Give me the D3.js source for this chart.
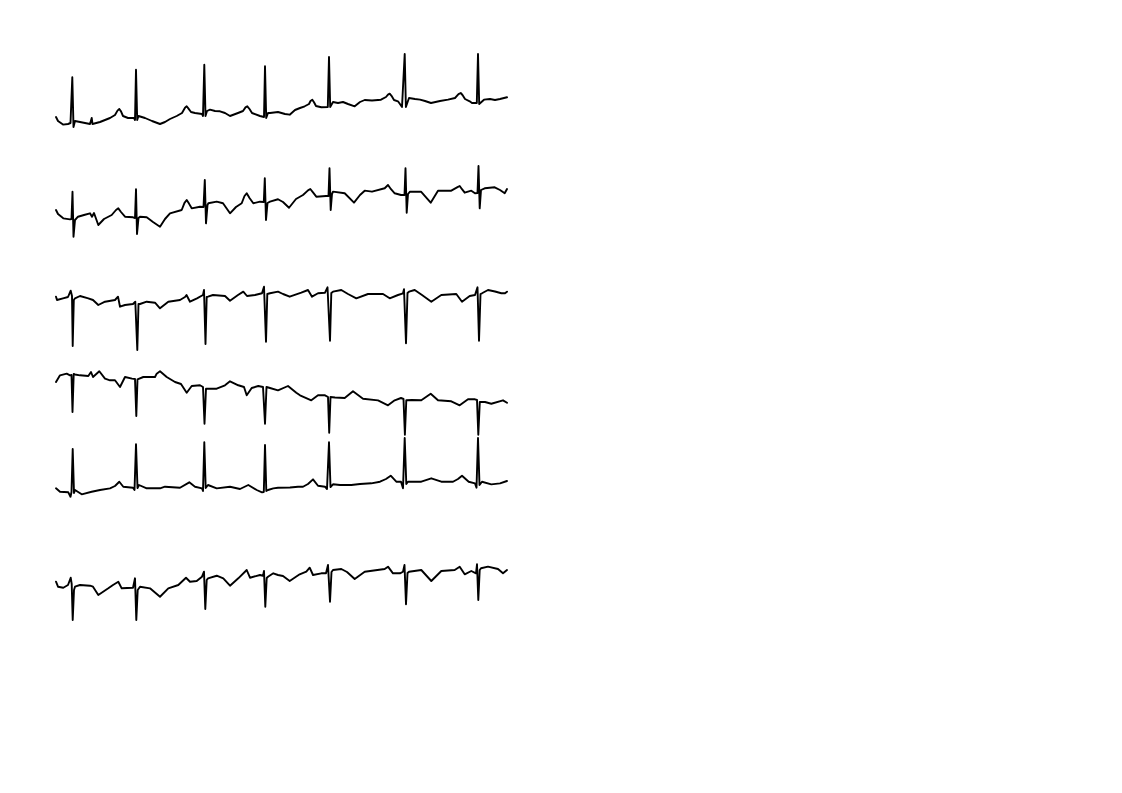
<!DOCTYPE html>
<html>
<head>
<meta charset="utf-8">
<script src="https://cdn.jsdelivr.net/npm/d3@7"></script>
<style>
  html, body { margin: 0; padding: 0; background: #ffffff; }
  svg { display: block; }
</style>
</head>
<body>
<div id="chart"></div>
<script>
// Time in ms, amplitude in microvolts.
const leadNames = ["I", "II", "III", "IV", "V", "VI"];

const lead1 = [[0,-50],[40,-150],[140,-240],[240,-225],[290,-200],[326,943],[350,-300],[380,-150],[480,-175],[580,-200],[680,-225],[714,-75],[730,-225],[880,-175],[980,-125],[1080,-75],[1180,0],[1230,110],[1266,150],[1300,90],[1340,-25],[1440,-75],[1560,-75],[1580,-125],[1600,1133],[1624,-125],[1650,-25],[1780,-75],[1920,-150],[2080,-225],[2180,-175],[2280,-100],[2414,-25],[2520,50],[2580,180],[2614,218],[2650,160],[2700,75],[2780,50],[2920,25],[2940,-25],[2966,1258],[2990,-25],[3020,100],[3080,133],[3180,100],[3280,93],[3380,50],[3480,-25],[3640,50],[3740,100],[3790,190],[3826,218],[3870,150],[3920,50],[4080,-25],[4160,-50],[4180,1218],[4204,-75],[4240,50],[4280,50],[4440,75],[4580,25],[4674,8],[4780,125],[4880,175],[4974,218],[5060,275],[5090,350],[5126,383],[5160,320],[5200,225],[5306,193],[5436,200],[5460,1450],[5484,200],[5540,325],[5640,300],[5740,325],[5840,275],[5974,218],[6080,325],[6174,375],[6320,363],[6500,383],[6600,450],[6640,510],[6674,533],[6710,480],[6760,375],[6840,343],[6920,200],[6974,1525],[6998,200],[7060,425],[7180,400],[7280,383],[7380,350],[7500,300],[7680,350],[7840,383],[7980,425],[8050,520],[8094,550],[8130,500],[8180,400],[8274,343],[8320,300],[8416,300],[8440,1525],[8464,275],[8560,383],[8680,400],[8780,375],[8880,400],[9020,443]];

const lead2 = [[0,-100],[40,-200],[146,-308],[280,-333],[310,-325],[330,358],[350,-768],[380,-350],[440,-268],[560,-225],[680,-183],[720,-268],[760,-175],[846,-475],[960,-325],[1114,-225],[1200,-100],[1246,-58],[1300,-150],[1380,-268],[1540,-283],[1580,-300],[1600,417],[1620,-700],[1650,-300],[1680,-268],[1814,-283],[1940,-400],[2080,-518],[2180,-325],[2280,-183],[2514,-100],[2570,80],[2614,150],[2660,60],[2714,-58],[2880,-18],[2950,-25],[2976,650],[3000,-433],[3030,25],[3046,68],[3214,108],[3340,68],[3480,-183],[3600,-25],[3714,68],[3770,250],[3814,318],[3870,200],[3946,68],[4080,108],[4156,100],[4176,693],[4200,-350],[4230,75],[4280,108],[4440,168],[4540,100],[4660,-43],[4800,175],[4940,275],[5040,390],[5086,425],[5140,340],[5206,233],[5400,250],[5450,250],[5470,943],[5494,-100],[5520,300],[5540,358],[5774,318],[5960,83],[6080,275],[6174,383],[6320,358],[6574,443],[6640,525],[6700,420],[6774,318],[6900,275],[6970,275],[6990,943],[7014,-168],[7040,300],[7080,358],[7300,358],[7494,83],[7640,383],[7906,383],[8030,470],[8074,500],[8120,420],[8174,333],[8306,383],[8380,318],[8430,325],[8450,1000],[8474,-58],[8500,400],[8574,443],[8774,468],[8880,400],[8974,318],[9020,425]];

const lead3 = [[0,8],[20,-75],[140,-33],[240,0],[294,158],[320,25],[334,-1225],[356,-75],[380,-33],[480,25],[646,-33],[740,-75],[846,-200],[980,-118],[1180,-75],[1240,8],[1280,-243],[1380,-200],[1540,-175],[1586,-118],[1626,-1325],[1650,-175],[1680,-175],[1814,-118],[1980,-143],[2080,-283],[2246,-118],[2480,-75],[2580,0],[2610,50],[2680,-118],[2820,-33],[2940,50],[2960,175],[2990,-1175],[3014,0],[3040,8],[3140,50],[3380,25],[3480,-93],[3640,50],[3746,133],[3820,25],[3980,50],[4120,93],[4160,258],[4200,-1118],[4226,75],[4280,93],[4440,133],[4540,75],[4674,8],[4906,108],[5040,175],[5120,8],[5240,93],[5380,108],[5430,243],[5480,-1093],[5506,100],[5540,133],[5706,175],[5840,75],[6006,-33],[6240,75],[6540,75],[6674,-33],[6840,50],[6940,93],[6960,193],[7000,-1158],[7030,100],[7060,133],[7174,175],[7320,50],[7506,-118],[7706,50],[8006,75],[8120,-118],[8274,25],[8380,50],[8430,243],[8460,-1093],[8490,75],[8520,93],[8640,175],[8780,138],[8906,93],[8980,93],[9020,133]];

const lead4 = [[0,150],[80,317],[214,358],[280,317],[310,325],[330,-600],[354,350],[380,338],[480,317],[646,300],[700,400],[740,275],[866,418],[980,233],[1080,193],[1180,193],[1280,25],[1380,275],[1520,233],[1580,225],[1606,-700],[1630,217],[1746,275],[1980,275],[2014,358],[2080,418],[2214,275],[2380,150],[2500,100],[2614,-118],[2714,50],[2880,68],[2940,25],[2970,-893],[3000,-18],[3214,-18],[3380,68],[3480,168],[3646,68],[3760,25],[3814,-183],[3914,0],[4046,50],[4140,25],[4180,-893],[4210,25],[4280,0],[4440,-58],[4640,50],[4806,-118],[4880,-183],[5106,-308],[5240,-183],[5380,-183],[5440,-225],[5464,-1118],[5490,-225],[5580,-238],[5774,-250],[5940,-83],[6140,-268],[6440,-308],[6640,-433],[6774,-308],[6900,-250],[6950,-275],[6978,-1168],[7006,-308],[7120,-300],[7306,-308],[7494,-143],[7640,-308],[7906,-333],[8074,-433],[8240,-283],[8380,-283],[8420,-300],[8446,-1168],[8476,-350],[8580,-350],[8706,-393],[8940,-308],[9020,-368]];

const lead5 = [[0,-233],[80,-318],[246,-333],[290,-443],[310,-325],[334,750],[360,-350],[380,-275],[514,-383],[714,-318],[880,-275],[1080,-233],[1180,-175],[1266,-68],[1346,-193],[1540,-218],[1570,-275],[1600,868],[1630,-225],[1660,-150],[1814,-233],[2080,-233],[2180,-193],[2480,-218],[2666,-83],[2780,-193],[2920,-233],[2940,-300],[2966,918],[2994,-225],[3040,-150],[3214,-233],[3480,-193],[3680,-250],[3846,-150],[4014,-275],[4120,-333],[4156,-325],[4180,850],[4206,-300],[4240,-275],[4346,-233],[4440,-218],[4680,-213],[4840,-193],[4940,-193],[5040,-125],[5140,-8],[5240,-168],[5380,-193],[5420,-250],[5460,918],[5490,-200],[5540,-133],[5680,-150],[5906,-150],[6080,-125],[6306,-108],[6480,-68],[6600,0],[6694,83],[6806,-68],[6900,-68],[6940,-233],[6974,1025],[7006,-125],[7040,-68],[7306,-68],[7506,18],[7706,-68],[7940,-68],[8040,0],[8120,83],[8254,-68],[8380,-108],[8410,-218],[8440,1025],[8470,-150],[8520,-68],[8706,-133],[8880,-108],[9020,-50]];

const lead6 = [[0,-293],[40,-418],[146,-443],[240,-375],[294,-193],[314,-350],[334,-1250],[360,-500],[380,-418],[480,-375],[680,-393],[740,-418],[846,-625],[1046,-458],[1140,-375],[1246,-293],[1314,-458],[1540,-443],[1580,-208],[1606,-1250],[1634,-500],[1680,-418],[1880,-458],[2080,-668],[2246,-458],[2446,-375],[2600,-193],[2680,-293],[2814,-275],[2920,-168],[2960,-43],[2986,-975],[3014,-250],[3040,-208],[3214,-143],[3346,-208],[3480,-393],[3646,-208],[3814,0],[3880,-193],[4080,-125],[4140,-143],[4160,-25],[4186,-918],[4214,-200],[4240,-168],[4346,-83],[4440,-125],[4540,-150],[4674,-275],[4874,-108],[5006,-43],[5074,58],[5140,-125],[5306,-83],[5400,-83],[5440,125],[5480,-793],[5510,-50],[5540,0],[5706,25],[5820,-50],[5974,-225],[6174,-43],[6574,25],[6640,83],[6740,-83],[6880,-83],[6940,-43],[6970,125],[7000,-858],[7030,-75],[7060,-43],[7306,0],[7506,-275],[7706,-25],[7974,0],[8074,83],[8174,-108],[8306,-25],[8400,-83],[8420,143],[8446,-750],[8474,0],[8500,43],[8640,83],[8840,25],[8940,-83],[9020,0]];

const leads = [lead1, lead2, lead3, lead4, lead5, lead6];

const W = 1122, H = 793;
const svg = d3.select("#chart").append("svg")
  .attr("width", W).attr("height", H)
  .attr("viewBox", `0 0 ${W} ${H}`);
svg.append("rect").attr("width", W).attr("height", H).attr("fill", "#ffffff");

const x = d3.scaleLinear().domain([0, 9020]).range([56, 507]);
const yLead = d3.scalePoint().domain(leadNames).range([115, 570]);
const yAmp = d3.scaleLinear().domain([-1000, 1000]).range([40, -40]);

const g = svg.append("g");
leadNames.forEach((name, i) => {
  const base = yLead(name);
  const line = d3.line()
    .x(d => x(d[0]))
    .y(d => base + yAmp(d[1]));
  g.append("path")
    .datum(leads[i])
    .attr("class", "lead lead-" + name)
    .attr("fill", "none")
    .attr("stroke", "#000000")
    .attr("stroke-width", 1.9)
    .attr("stroke-linejoin", "round")
    .attr("stroke-linecap", "round")
    .attr("d", line);
});
</script>
</body>
</html>
